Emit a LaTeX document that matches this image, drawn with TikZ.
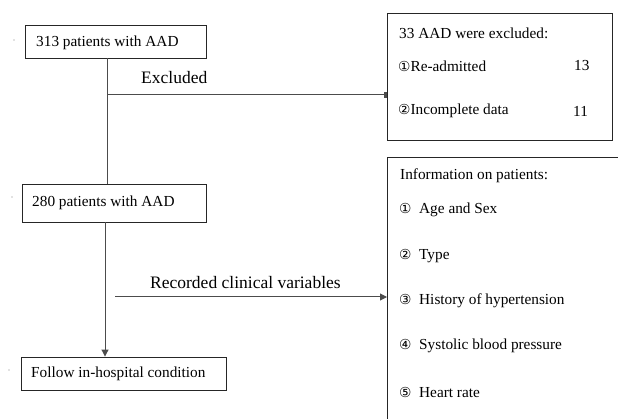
\documentclass[tikz,border=0pt]{standalone}
\usepackage{fontspec}
\setmainfont{Liberation Serif}
\newfontfamily\circfont[Scale=0.9]{DejaVu Sans}
\usetikzlibrary{arrows.meta}
\begin{document}
\begin{tikzpicture}[x=1pt,y=-1pt,
  box/.style={draw=black!85,line width=0.9pt,inner sep=0pt},
  txt/.style={anchor=west,inner sep=0pt,font=\fontsize{15.3}{18}\selectfont},
  lbl/.style={anchor=west,inner sep=0pt,font=\fontsize{17.5}{20}\selectfont},
  conn/.style={draw=black!70,line width=1pt},
  tri/.style={-{Triangle[length=7pt,width=7pt]}},
  bar/.style={-{Rectangle[length=3pt,width=6pt]}}]
\useasboundingbox (0,0) rectangle (618,419);
\clip (0,0) rectangle (618,419);
% boxes
\node[box,minimum width=181pt,minimum height=33pt] (b1) at (115.5,41.5) {};
\node[box,minimum width=225pt,minimum height=127pt] (b2) at (499.5,76.5) {};
\node[box,minimum width=184pt,minimum height=38pt] (b3) at (114,203) {};
\node[box,minimum width=205pt,minimum height=33pt] (b4) at (123.5,373.5) {};
\node[box,minimum width=260pt,minimum height=300pt,anchor=north west] (b5) at (387,157) {};
% texts
\node[txt] (t1) at (36,43) {313 patients with AAD};
\node[lbl] (tex) at (141,78) {Excluded};
\node[txt] (t2a) at (399,33) {33 AAD were excluded:};
\node[txt] (t2b) at (398,66) {{\circfont ①}Re-admitted};
\node[txt] (t2bn) at (574,66) {13};
\node[txt] (t2c) at (398,111) {{\circfont ②}Incomplete data};
\node[txt] (t2cn) at (573,111) {11};
\node[txt] (t3) at (32,203) {280 patients with AAD};
\node[lbl] (trec) at (150,283) {Recorded clinical variables};
\node[txt] (t4) at (31,374) {Follow in-hospital condition};
\node[txt] (i0) at (400,176) {Information on patients:};
\node[txt] (i1) at (399,210) {{\circfont ①}\ \ Age and Sex};
\node[txt] (i2) at (399,256) {{\circfont ②}\ \ Type};
\node[txt] (i3) at (399,301) {{\circfont ③}\ \ History of hypertension};
\node[txt] (i4) at (399,346) {{\circfont ④}\ \ Systolic blood pressure};
\node[txt] (i5) at (399,392) {{\circfont ⑤}\ \ Heart rate};
% connectors
\coordinate (v1) at (107,0);
\coordinate (v2) at (105,0);
\coordinate (e1) at (108,95);
\coordinate (e2) at (115,297);
\draw[conn] (b1.south -| v1) -- (b3.north -| v1);
\draw[conn,tri] (b3.south -| v2) -- (b4.north -| v2);
\draw[conn,bar] (e1) -- (e1 -| b2.west);
\draw[conn,tri] (e2) -- (e2 -| b5.west);
% specks
\fill[black!50] (14,40) circle (0.6);
\fill[black!50] (12,197) circle (0.6);
\fill[black!50] (9,370) circle (0.6);
\end{tikzpicture}
\end{document}
